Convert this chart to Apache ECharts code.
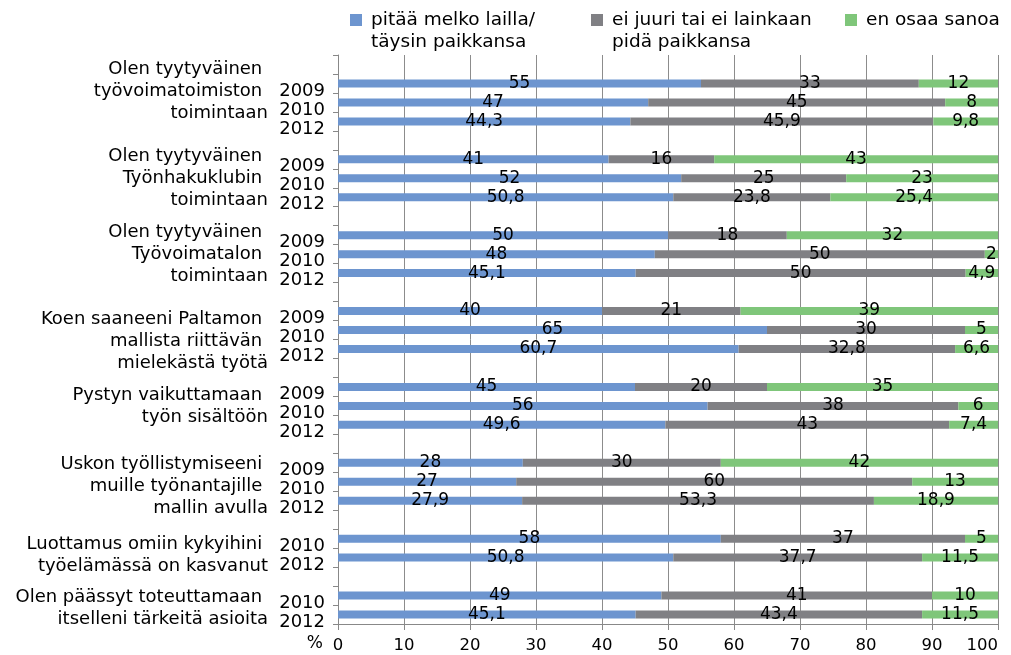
<!DOCTYPE html>
<html>
<head>
<meta charset="utf-8">
<script src="https://cdn.jsdelivr.net/npm/echarts@6/dist/echarts.min.js"></script>
<style>
  html, body { margin: 0; padding: 0; background: #fff; }
  #chart { width: 1011px; height: 655px; }
</style>
</head>
<body>
<div id="chart"></div>
<script>
// ---- Data ----
const groupLabels = [
  'Olen tyytyväinen \ntyövoimatoimiston \ntoimintaan',
  'Olen tyytyväinen \nTyönhakuklubin \ntoimintaan',
  'Olen tyytyväinen \nTyövoimatalon \ntoimintaan',
  'Koen saaneeni Paltamon \nmallista riittävän \nmielekästä työtä',
  'Pystyn vaikuttamaan \ntyön sisältöön',
  'Uskon työllistymiseeni \nmuille työnantajille \nmallin avulla',
  'Luottamus omiin kykyihini \ntyöelämässä on kasvanut',
  'Olen päässyt toteuttamaan \nitselleni tärkeitä asioita'
];
const groupYears = [
  ['2009', '2010', '2012'],
  ['2009', '2010', '2012'],
  ['2009', '2010', '2012'],
  ['2009', '2010', '2012'],
  ['2009', '2010', '2012'],
  ['2009', '2010', '2012'],
  ['2010', '2012'],
  ['2010', '2012']
];
const seriesNames = [
  'pitää melko lailla/\ntäysin paikkansa',
  'ei juuri tai ei lainkaan\npidä paikkansa',
  'en osaa sanoa'
];
const agree    = [55, 47, 44.3, 41, 52, 50.8, 50, 48, 45.1, 40, 65, 60.7, 45, 56, 49.6, 28, 27, 27.9, 58, 50.8, 49, 45.1];
const disagree = [33, 45, 45.9, 16, 25, 23.8, 18, 50, 50, 21, 30, 32.8, 20, 38, 43, 30, 60, 53.3, 37, 37.7, 41, 43.4];
const dontKnow = [12, 8, 9.8, 43, 23, 25.4, 32, 2, 4.9, 39, 5, 6.6, 35, 6, 7.4, 42, 13, 18.9, 5, 11.5, 10, 11.5];
const xTicks = [0, 10, 20, 30, 40, 50, 60, 70, 80, 90, 100];

// ---- Row layout built from the data ----
const rowLabels = [''];
const groupCenters = [];
groupYears.forEach((ys, g) => {
  if (g > 0) rowLabels.push('');
  const start = rowLabels.length;
  ys.forEach(y => rowLabels.push(y));
  groupCenters.push(start + ys.length / 2);
});
const rowIds = rowLabels.map((_, i) => 'r' + i);
function spread(vals) {
  let k = 0;
  return rowLabels.map(l => (l === '' ? '-' : vals[k++]));
}

// ---- Styling ----
const colors = ['#6D95CF', '#808084', '#7FC67A'];
const FONT = 'DejaVu Sans';
// small vertical nudges (in row units) mimicking the original label placement
const groupNudge = [-0.58, 0, 0, 0.58, 0, 0.26, 0.37, 0.2];
const groupLabelPos = groupCenters.map((c, i) => c + groupNudge[i]);

const chart = echarts.init(document.getElementById('chart'), null, { renderer: 'canvas' });

function legendFor(i, left, top, twoLine) {
  return {
    data: [seriesNames[i]],
    left: left,
    top: top,
    padding: 0,
    itemWidth: 12,
    itemHeight: 12,
    icon: 'rect',
    selectedMode: false,
    formatter: n => (twoLine ? '\n' + n : n),
    textStyle: { fontFamily: FONT, fontSize: 18.5, color: '#000', lineHeight: 22, padding: [0, 0, 0, 4] }
  };
}

const option = {
  animation: false,
  backgroundColor: '#fff',
  color: colors,
  legend: [
    legendFor(0, 350, -13, true),
    legendFor(1, 591, -13, true),
    legendFor(2, 845, 9, false)
  ],
  grid: { left: 338, right: 13, top: 55, bottom: 31, containLabel: false },
  xAxis: {
    type: 'value',
    min: xTicks[0],
    max: xTicks[xTicks.length - 1],
    interval: xTicks[1] - xTicks[0],
    name: '%',
    nameLocation: 'start',
    nameGap: 15,
    nameMoveOverlap: false,
    nameTextStyle: { fontFamily: FONT, fontSize: 17, color: '#000', verticalAlign: 'top', padding: [11, 0, 0, 0] },
    axisLine: { show: true, onZero: false, lineStyle: { color: '#888', width: 1 } },
    axisTick: { show: true, length: 6, lineStyle: { color: '#888' } },
    splitLine: { show: true, lineStyle: { color: '#8c8c8c', width: 1 } },
    axisLabel: { fontFamily: FONT, fontSize: 16.5, color: '#000', margin: 13, alignMaxLabel: 'right' }
  },
  yAxis: [
    {
      type: 'category',
      inverse: true,
      data: rowIds,
      axisLine: { show: true, onZero: false, lineStyle: { color: '#888', width: 1 } },
      axisTick: { show: true, length: 5, lineStyle: { color: '#888' } },
      splitLine: { show: false },
      axisLabel: {
        interval: 0,
        margin: 13,
        fontFamily: FONT, fontSize: 18, color: '#000',
        verticalAlign: 'top',
        lineHeight: 15,
        formatter: (v, i) => rowLabels[i]
      }
    },
    {
      type: 'value',
      inverse: true,
      min: 0,
      max: rowLabels.length,
      position: 'left',
      axisLine: { show: false, onZero: false },
      axisTick: { show: false },
      splitLine: { show: false },
      axisLabel: {
        customValues: groupLabelPos,
        margin: 70,
        fontFamily: FONT, fontSize: 18, color: '#000', lineHeight: 22,
        align: 'right',
        formatter: v => {
          const k = groupLabelPos.indexOf(v);
          return k >= 0 ? groupLabels[k] : '';
        }
      }
    }
  ],
  series: [agree, disagree, dontKnow].map((vals, i) => ({
    name: seriesNames[i],
    type: 'bar',
    stack: 'total',
    yAxisIndex: 0,
    barWidth: 8,
    data: spread(vals),
    itemStyle: { color: colors[i] },
    label: {
      show: true,
      position: 'inside',
      fontFamily: FONT,
      fontSize: 17,
      color: '#000',
      formatter: p => String(p.value).replace('.', ',')
    }
  }))
};
chart.setOption(option);
</script>
</body>
</html>
